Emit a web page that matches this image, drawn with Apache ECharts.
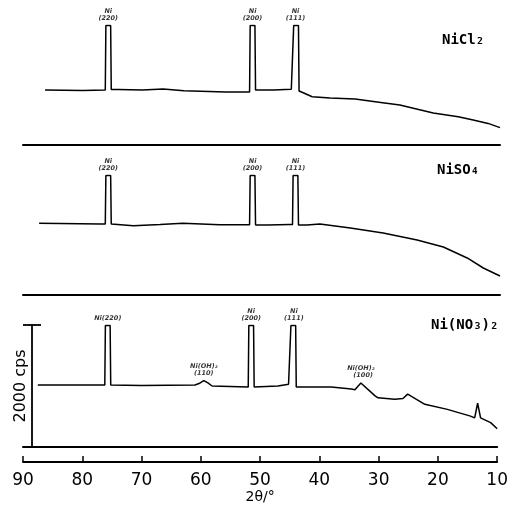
<!DOCTYPE html>
<html><head><meta charset="utf-8">
<script src="https://cdn.jsdelivr.net/npm/echarts@6/dist/echarts.min.js"></script>
<style>html,body{margin:0;padding:0;background:#fff}#c{width:511px;height:517px}</style>
</head><body><div id="c"></div><script>
// 2θ axis ticks
const xTicks = [90, 80, 70, 60, 50, 40, 30, 20, 10];
const sampleNames = ['NiCl₂', 'NiSO₄', 'Ni(NO₃)₂'];

// NiCl2 pattern (2θ, cps)
const niCl2Angle = [86.3, 80.0, 76.2, 76.1, 75.3, 75.2, 74.0, 70.0, 66.5, 63.0, 56.0, 52.0, 51.9, 51.1, 51.0, 48.0, 45.0, 44.7, 44.6, 43.8, 43.7, 43.2, 41.5, 38.5, 34.3, 30.0, 26.8, 21.2, 17.0, 14.5, 12.0, 10.0];
const niCl2Cps   = [917, 910, 917, 1990, 1990, 925, 925, 915, 935, 905, 885, 885, 1990, 1990, 915, 915, 930, 930, 1990, 1990, 900, 880, 805, 785, 765, 710, 667, 533, 470, 417, 360, 290];

// NiSO4 pattern
const niSO4Angle = [87.3, 77.0, 76.2, 76.1, 75.3, 75.2, 71.5, 67.0, 63.2, 57.0, 52.0, 51.9, 51.1, 51.0, 49.0, 45.2, 44.8, 44.7, 43.9, 43.8, 42.4, 40.2, 35.1, 29.6, 23.9, 19.5, 15.5, 12.8, 10.0];
const niSO4Cps   = [1195, 1183, 1183, 1990, 1990, 1183, 1155, 1175, 1195, 1170, 1172, 1990, 1990, 1167, 1167, 1175, 1175, 1990, 1990, 1167, 1167, 1183, 1117, 1033, 917, 800, 617, 450, 317];

// Ni(NO3)2 pattern
const niNO3Angle = [87.5, 77.0, 76.2, 76.1, 75.3, 75.2, 70.0, 61.0, 60.3, 59.5, 58.8, 58.1, 52.0, 51.9, 51.1, 51.0, 47.0, 45.2, 44.9, 44.8, 44.0, 43.9, 38.0, 34.6, 34.0, 33.0, 30.6, 30.1, 27.3, 25.9, 25.1, 22.2, 18.4, 14.5, 13.8, 13.3, 12.8, 11.1, 10.0];
const niNO3Cps   = [1017, 1017, 1017, 1990, 1990, 1017, 1010, 1017, 1040, 1088, 1050, 1000, 983, 1990, 1990, 983, 1000, 1028, 1028, 1990, 1990, 983, 983, 950, 939, 1050, 839, 806, 783, 794, 867, 700, 617, 506, 478, 717, 478, 400, 300];

// peak annotations
const niPeakAngle = [75.7, 51.5, 44.3];
const niPeakLabel = ['Ni\n(220)', 'Ni\n(200)', 'Ni\n(111)'];
const niPeakLabelBottom = ['Ni(220)', 'Ni\n(200)', 'Ni\n(111)'];
const ohPeakAngle = [59.5, 33.0];
const ohPeakCps = [1088, 1050];
const ohPeakLabel = ['Ni(OH)₂\n(110)', 'Ni(OH)₂\n  (100)'];

const zip = (a, b) => a.map((v, i) => [v, b[i]]);

const grids = [
  {left: 23, right: 11, top: 25, bottom: 372},
  {left: 23, right: 11, top: 175, bottom: 222},
  {left: 23, right: 11, top: 325, bottom: 70}
];
const sepX = i => ({
  gridIndex: i, type: 'value', min: 10, max: 90, inverse: true, interval: 10,
  axisLine: {show: true, onZero: false, lineStyle: {color: '#000', width: 2}},
  axisTick: {show: false}, axisLabel: {show: false}, splitLine: {show: false}
});
const hiddenY = i => ({gridIndex: i, type: 'value', min: 0, max: 2000, show: false});

const lineSeries = (i, data) => ({
  type: 'line', xAxisIndex: i, yAxisIndex: i, data: data, showSymbol: false,
  symbol: 'none', lineStyle: {color: '#000', width: 1.5}, animation: false
});
const labelSeries = (xi, yi, angles, values, labels) => ({
  type: 'scatter', xAxisIndex: xi, yAxisIndex: yi, symbolSize: 1,
  itemStyle: {color: 'rgba(0,0,0,0)'}, animation: false, silent: true,
  data: angles.map((a, k) => ({value: [a, values[k]], name: labels[k]})),
  label: {show: true, position: 'top', distance: 3, formatter: p => p.name,
    color: '#000', fontSize: 6.5, fontStyle: 'italic', fontWeight: 'bold', lineHeight: 7.5,
    fontFamily: 'DejaVu Sans'}
});

const chart = echarts.init(document.getElementById('c'), null, {renderer: 'canvas'});
chart.setOption({
  backgroundColor: '#fff',
  animation: false,
  grid: grids,
  xAxis: [sepX(0), sepX(1), sepX(2), {
    gridIndex: 2, type: 'value', min: 10, max: 90, inverse: true, interval: 10,
    position: 'bottom', offset: 15,
    axisLine: {show: true, onZero: false, lineStyle: {color: '#000', width: 1.8}},
    axisTick: {show: true, inside: true, length: 6, lineStyle: {color: '#000', width: 1.5}},
    axisLabel: {show: true, color: '#000', fontSize: 17, fontFamily: 'DejaVu Sans', margin: 10,
      formatter: v => xTicks.includes(v) ? String(v) : ''},
    splitLine: {show: false},
    name: '2θ/°', nameLocation: 'middle', nameGap: 28,
    nameTextStyle: {color: '#000', fontSize: 14, fontFamily: 'DejaVu Sans'}
  }],
  yAxis: [hiddenY(0), hiddenY(1), {
    gridIndex: 2, type: 'value', min: 0, max: 2000, interval: 2000, position: 'left', offset: -9,
    axisLine: {show: true, onZero: false, lineStyle: {color: '#000', width: 1.8}},
    axisTick: {show: true, inside: true, length: 9, lineStyle: {color: '#000', width: 1.8}},
    axisLabel: {show: false}, splitLine: {show: false},
    name: '2000 cps', nameLocation: 'middle', nameGap: 3,
    nameTextStyle: {color: '#000', fontSize: 16, fontFamily: 'DejaVu Sans'}
  }, {
    gridIndex: 2, type: 'value', min: 0, max: 2000, interval: 2000, position: 'left', offset: -9,
    axisLine: {show: false, onZero: false},
    axisTick: {show: true, inside: false, length: 9, lineStyle: {color: '#000', width: 1.8}},
    axisLabel: {show: false}, splitLine: {show: false}
  }],
  graphic: [
    {type: 'text', left: 442, top: 33, style: {text: sampleNames[0], fill: '#000', font: 'bold 14px "DejaVu Sans Mono"'}},
    {type: 'text', left: 437, top: 163, style: {text: sampleNames[1], fill: '#000', font: 'bold 14px "DejaVu Sans Mono"'}},
    {type: 'text', left: 431, top: 318, style: {text: sampleNames[2], fill: '#000', font: 'bold 14px "DejaVu Sans Mono"'}}
  ],
  series: [
    lineSeries(0, zip(niCl2Angle, niCl2Cps)),
    lineSeries(1, zip(niSO4Angle, niSO4Cps)),
    lineSeries(2, zip(niNO3Angle, niNO3Cps)),
    labelSeries(0, 0, niPeakAngle, [1990, 1990, 1990], niPeakLabel),
    labelSeries(1, 1, niPeakAngle, [1990, 1990, 1990], niPeakLabel),
    labelSeries(2, 2, niPeakAngle, [1990, 1990, 1990], niPeakLabelBottom),
    labelSeries(2, 2, ohPeakAngle, ohPeakCps, ohPeakLabel)
  ]
});
</script></body></html>
